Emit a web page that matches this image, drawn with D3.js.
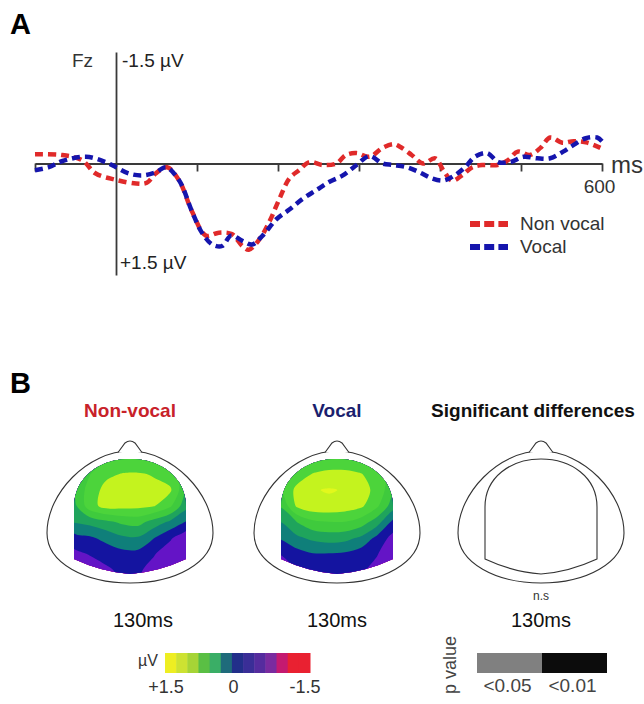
<!DOCTYPE html>
<html>
<head>
<meta charset="utf-8">
<script src="https://cdn.jsdelivr.net/npm/d3@7"></script>
<style>
  body { margin: 0; background: #fff; }
  svg { display: block; font-family: "Liberation Sans", Arial, sans-serif; }
</style>
</head>
<body>
<svg id="fig" width="644" height="704"></svg>
<script>
// ERP at Fz (ms, µV; positive is drawn downward)
var nonVocalMs = [-100, -67, -42, -25, 0, 25, 38, 49, 63, 78, 94, 111, 127, 143, 156, 164, 177, 189, 202, 214,
    226, 239, 255, 272, 284, 297, 313, 329, 343, 350, 365, 379, 394, 404, 415, 427, 440, 453, 471, 484,
    496, 511, 524, 536, 551, 565, 582, 598];
var nonVocalUv = [-0.125, -0.115, -0.045, 0.135, 0.22, 0.27, 0.26, 0.135, 0.05, 0.23, 0.65, 0.97, 0.93, 0.95, 1.11, 1.16, 1.02, 0.79, 0.47, 0.2,
    0.09, -0.02, 0.02, 0.0, -0.115, -0.14, -0.09, -0.21, -0.26, -0.23, -0.115, 0.0, -0.07, 0.09, 0.23, 0.16, 0.05, 0.02, 0.02, -0.045,
    -0.16, -0.115, -0.21, -0.35, -0.28, -0.3, -0.28, -0.21];

var vocalMs = [-100, -83, -67, -37, -13, 0, 16, 32, 49, 62, 78, 94, 106, 119, 131, 142, 156, 168, 181, 198,
    214, 230, 247, 263, 280, 297, 313, 329, 342, 359, 375, 390, 404, 418, 431, 443, 458, 472, 487, 503,
    520, 536, 552, 565, 580, 594, 600];
var vocalUv = [0.09, 0.05, -0.03, -0.09, -0.02, 0.05, 0.135, 0.16, 0.12, 0.05, 0.23, 0.65, 0.93, 1.09, 1.11, 0.97, 1.04, 1.09, 0.97, 0.75,
    0.62, 0.48, 0.36, 0.25, 0.16, 0.02, -0.1, 0.0, 0.02, 0.05, 0.12, 0.2, 0.23, 0.16, 0.05, -0.09, -0.14, -0.02, -0.02, -0.09,
    -0.07, -0.07, -0.16, -0.25, -0.34, -0.35, -0.3];

var tickMs = [-100, 100, 200, 300, 400, 500, 600];
var legendLabels = ["Non vocal", "Vocal"];

// Scalp maps at 130 ms: 8 columns x 9 rows, µV
var nonVocalMap = [
    [0.65, 0.7, 0.75, 0.8, 0.8, 0.8, 0.75, 0.65],
    [0.68, 0.8, 0.98, 1.05, 1.06, 1.02, 0.9, 0.7],
    [0.62, 0.9, 1.12, 1.15, 1.12, 1.1, 1.08, 0.6],
    [0.5, 0.95, 1.12, 1.12, 1.1, 1.05, 0.85, 0.42],
    [0.36, 0.42, 0.52, 0.62, 0.66, 0.48, 0.3, 0.1],
    [0.02, 0.08, 0.18, 0.3, 0.32, 0.12, -0.08, -0.28],
    [-0.18, -0.1, -0.02, 0.04, 0.04, -0.1, -0.25, -0.32],
    [-0.3, -0.25, -0.16, -0.06, -0.08, -0.2, -0.32, -0.35],
    [-0.35, -0.32, -0.25, -0.1, -0.12, -0.28, -0.35, -0.38]
];
var vocalMap = [
    [0.7, 0.75, 0.8, 0.85, 0.85, 0.8, 0.75, 0.7],
    [0.72, 0.92, 1.05, 1.1, 1.1, 1.05, 0.92, 0.7],
    [0.82, 1.1, 1.25, 1.29, 1.25, 1.12, 0.98, 0.62],
    [0.6, 1.08, 1.2, 1.2, 1.16, 1.08, 0.85, 0.45],
    [0.35, 0.58, 0.76, 0.8, 0.8, 0.7, 0.45, 0.05],
    [0.14, 0.3, 0.4, 0.45, 0.42, 0.3, 0.05, -0.2],
    [-0.1, 0.02, 0.1, 0.1, 0.08, 0.0, -0.1, -0.3],
    [-0.3, -0.1, -0.05, -0.05, -0.05, -0.08, -0.2, -0.35],
    [-0.35, -0.25, -0.15, -0.15, -0.15, -0.2, -0.3, -0.4]
];

var mapTitles = ["Non-vocal", "Vocal", "Significant differences"];
var mapTimes = ["130ms", "130ms", "130ms"];
var scaleLabels = ["+1.5", "0", "-1.5"];
var scaleValues = [1.5, 0, -1.5];
var pLabels = ["<0.05", "<0.01"];

// colour bins from +1.5 (top) to -1.5
var barColors = ["#eeee22", "#cde232", "#a6d436", "#5abf44", "#3aae66", "#1f6b7b", "#222f8a",
    "#3a2e97", "#552c9e", "#7a2b9f", "#c41a70", "#e92131", "#e92131"];
var mapColors = ["#e2f81c", "#c4f31e", "#4cd43b", "#3fca3d", "#1fa45c", "#0f7f7a", "#1414a0",
    "#6414c6", "#7814c4", "#9414b8", "#b8149a", "#e01450", "#f01428"];

var svg = d3.select("#fig");
var font = "'Liberation Sans', Arial, sans-serif";

// ---------- Panel A ----------
var x = d3.scaleLinear().domain([-100, 600]).range([35, 602]);
var y = d3.scaleLinear().domain([-1.5, 1.5]).range([52, 275]);

svg.append("text").attr("x", 10).attr("y", 34)
    .attr("font-size", 29).attr("font-weight", "bold").text("A");

var xAxis = svg.append("g")
    .attr("transform", "translate(0," + y(0) + ")")
    .call(d3.axisBottom(x).tickValues(tickMs).tickSize(8).tickSizeOuter(0).tickPadding(8)
        .tickFormat(function(d) { return d === 600 ? "600" : ""; }));
xAxis.select(".domain").attr("stroke", "#3a3a3a").attr("stroke-width", 1.8);
xAxis.selectAll(".tick line").attr("stroke", "#3a3a3a").attr("stroke-width", 1.8);
xAxis.selectAll(".tick text").attr("font-size", 19).attr("font-family", font)
    .attr("fill", "#333").attr("dx", -3);

var yAxis = svg.append("g")
    .attr("transform", "translate(" + x(0) + ",0)")
    .call(d3.axisLeft(y).tickValues([]).tickSizeOuter(0));
yAxis.select(".domain").attr("stroke", "#3a3a3a").attr("stroke-width", 1.8);

svg.append("text").attr("x", 72).attr("y", 67).attr("font-size", 19).attr("fill", "#333").text("Fz");
svg.append("text").attr("x", 122).attr("y", 67).attr("font-size", 19).attr("fill", "#222").text("-1.5 µV");
svg.append("text").attr("x", 120).attr("y", 269).attr("font-size", 19).attr("fill", "#222").text("+1.5 µV");
svg.append("text").attr("x", 611).attr("y", 173).attr("font-size", 24).attr("fill", "#333").text("ms");

var line = d3.line()
    .x(function(d) { return x(d[0]); })
    .y(function(d) { return y(d[1]); })
    .curve(d3.curveCatmullRom.alpha(0.5));

var series = [
    {name: legendLabels[0], color: "#e02a2a", pts: d3.zip(nonVocalMs, nonVocalUv)},
    {name: legendLabels[1], color: "#1515ad", pts: d3.zip(vocalMs, vocalUv)}
];

svg.selectAll(".erp")
    .data(series)
    .join("path")
    .attr("class", "erp")
    .attr("fill", "none")
    .attr("stroke", function(d) { return d.color; })
    .attr("stroke-width", 4.5)
    .attr("stroke-dasharray", "8,5")
    .attr("d", function(d) { return line(d.pts); });

var legend = svg.selectAll(".legend")
    .data(series)
    .join("g")
    .attr("class", "legend")
    .attr("transform", function(d, i) { return "translate(470," + (224 + i * 23) + ")"; });
legend.append("line")
    .attr("x1", 0).attr("x2", 38)
    .attr("stroke", function(d) { return d.color; })
    .attr("stroke-width", 6)
    .attr("stroke-dasharray", "10,4.2");
legend.append("text")
    .attr("x", 50).attr("y", 6)
    .attr("font-size", 19).attr("fill", "#333")
    .text(function(d) { return d.name; });

// ---------- Panel B ----------
svg.append("text").attr("x", 10).attr("y", 393)
    .attr("font-size", 29).attr("font-weight", "bold").text("B");

var headCx = [130, 337, 541];
var headTop = 451;
var titleColors = ["#c8222a", "#1b1f6e", "#111"];
var timeX = [143, 337, 541];

function outerHead(cx) {
    var p = d3.path(), t = headTop;
    p.moveTo(cx, t);
    p.bezierCurveTo(cx + 42, t, cx + 83, t + 42, cx + 83, t + 82);
    p.bezierCurveTo(cx + 83, t + 112, cx + 45, t + 132, cx, t + 132);
    p.bezierCurveTo(cx - 45, t + 132, cx - 83, t + 112, cx - 83, t + 82);
    p.bezierCurveTo(cx - 83, t + 42, cx - 42, t, cx, t);
    p.closePath();
    return p.toString();
}
function nose(cx) {
    var p = d3.path(), t = headTop;
    p.moveTo(cx - 12, t + 1.5);
    p.lineTo(cx - 5, t - 8);
    p.quadraticCurveTo(cx, t - 12, cx + 5, t - 8);
    p.lineTo(cx + 12, t + 1.5);
    return p.toString();
}
function innerHead(cx) {
    var p = d3.path(), t = headTop;
    p.moveTo(cx - 56, t + 56);
    p.bezierCurveTo(cx - 56, t + 26, cx - 30, t + 8, cx, t + 8);
    p.bezierCurveTo(cx + 30, t + 8, cx + 56, t + 26, cx + 56, t + 56);
    p.lineTo(cx + 56, t + 108);
    p.quadraticCurveTo(cx + 28, t + 121, cx, t + 123);
    p.quadraticCurveTo(cx - 28, t + 121, cx - 56, t + 108);
    p.closePath();
    return p.toString();
}

var step = 3 / 13;
var thresholds = d3.range(13).map(function(k) { return -1.5 + k * step; });
var maps = [nonVocalMap, vocalMap];
var ringLine = d3.line().curve(d3.curveCatmullRomClosed.alpha(0.5));

headCx.forEach(function(cx, i) {
    var g = svg.append("g");
    g.append("path").attr("d", outerHead(cx)).attr("fill", "#fff")
        .attr("stroke", "#333").attr("stroke-width", 1.1);
    g.append("path").attr("d", nose(cx)).attr("fill", "#fff")
        .attr("stroke", "#333").attr("stroke-width", 1.1);

    if (i < 2) {
        var grid = maps[i];
        var nRows = grid.length, nCols = grid[0].length;
        var values = [].concat.apply([], grid);
        var contours = d3.contours().size([nCols, nRows]).thresholds(thresholds)(values);
        var gx = d3.scaleLinear().domain([0, nCols]).range([cx - 64, cx + 64]);
        var gy = d3.scaleLinear().domain([0, nRows]).range([headTop - 1, headTop - 1 + nRows * 16]);
        var smoothPath = function(c) {
            var out = "";
            c.coordinates.forEach(function(poly) {
                poly.forEach(function(ring) {
                    var pts = ring.slice(0, -1).map(function(p) { return [gx(p[0]), gy(p[1])]; });
                    if (pts.length > 2) out += ringLine(pts);
                });
            });
            return out;
        };
        svg.append("clipPath").attr("id", "clip" + i)
            .append("path").attr("d", innerHead(cx));
        g.append("g").attr("clip-path", "url(#clip" + i + ")")
            .selectAll("path")
            .data(contours)
            .join("path")
            .attr("d", smoothPath)
            .attr("fill-rule", "evenodd")
            .attr("fill", function(d) {
                var k = Math.round((d.value + 1.5) / step);
                return mapColors[12 - k];
            });
    } else {
        g.append("path").attr("d", innerHead(cx)).attr("fill", "none")
            .attr("stroke", "#333").attr("stroke-width", 1.1);
        g.append("text").attr("x", cx).attr("y", 600).attr("text-anchor", "middle")
            .attr("font-size", 12).attr("fill", "#333").text("n.s");
    }

    svg.append("text").attr("x", i === 2 ? 533 : cx).attr("y", 417)
        .attr("text-anchor", "middle").attr("font-size", 19).attr("font-weight", "bold")
        .attr("fill", titleColors[i]).text(mapTitles[i]);
    svg.append("text").attr("x", timeX[i]).attr("y", 627)
        .attr("text-anchor", "middle").attr("font-size", 20).attr("fill", "#111")
        .text(mapTimes[i]);
});

// µV colour scale
var cb = d3.scaleLinear().domain([1.5, -1.5]).range([165, 310]);
svg.selectAll(".cbcell")
    .data(barColors)
    .join("rect")
    .attr("class", "cbcell")
    .attr("x", function(d, i) { return cb(1.5 - i * step); })
    .attr("y", 653)
    .attr("width", cb(1.5 - step) - cb(1.5) + 0.5)
    .attr("height", 20)
    .attr("fill", function(d) { return d; });
svg.append("text").attr("x", 158).attr("y", 666).attr("text-anchor", "end")
    .attr("font-size", 16).attr("fill", "#333").text("µV");
svg.selectAll(".cblab")
    .data(scaleValues)
    .join("text")
    .attr("class", "cblab")
    .attr("x", function(d, i) { return cb(d) + [1, -4, -5][i]; })
    .attr("y", 693)
    .attr("text-anchor", "middle")
    .attr("font-size", 18).attr("fill", "#333")
    .text(function(d, i) { return scaleLabels[i]; });

// p value scale
var px = d3.scaleBand().domain(pLabels).range([477, 607]);
svg.selectAll(".pcell")
    .data(pLabels)
    .join("rect")
    .attr("class", "pcell")
    .attr("x", function(d) { return px(d); })
    .attr("y", 653)
    .attr("width", px.bandwidth())
    .attr("height", 20)
    .attr("fill", function(d, i) { return i === 0 ? "#808080" : "#0c0c0c"; });
svg.selectAll(".plab")
    .data(pLabels)
    .join("text")
    .attr("class", "plab")
    .attr("x", function(d) { return px(d) + px.bandwidth() / 2 - 2; })
    .attr("y", 692)
    .attr("text-anchor", "middle")
    .attr("font-size", 19).attr("fill", "#444")
    .text(function(d) { return d; });
svg.append("text")
    .attr("transform", "translate(456,665) rotate(-90)")
    .attr("text-anchor", "middle")
    .attr("font-size", 18).attr("fill", "#444")
    .text("p value");
</script>
</body>
</html>
